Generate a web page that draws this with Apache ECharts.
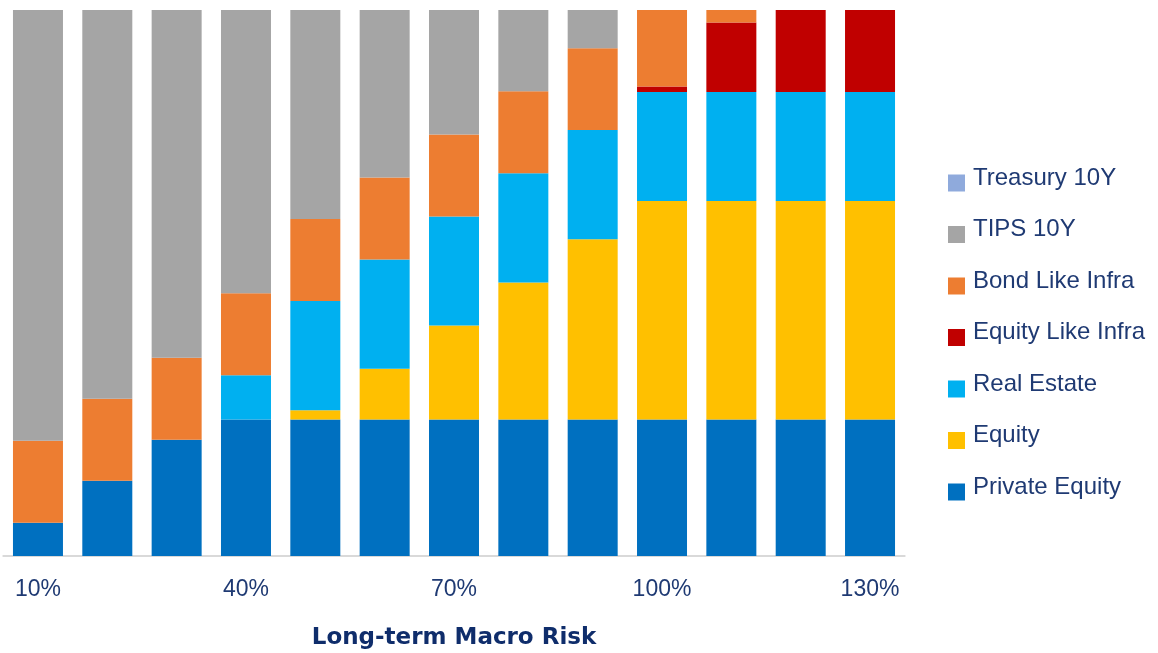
<!DOCTYPE html>
<html>
<head>
<meta charset="utf-8">
<script src="https://cdn.jsdelivr.net/npm/echarts@6/dist/echarts.min.js"></script>
<style>
  html, body { margin: 0; padding: 0; background: #fff; }
  #chart { width: 1158px; height: 653px; }
</style>
</head>
<body>
<div id="chart"></div>
<script>
// categories (macro risk levels)
const categories = ['10%', '20%', '30%', '40%', '50%', '60%', '70%', '80%', '90%', '100%', '110%', '120%', '130%']

// allocation shares, % of portfolio
const privateEquity = [6.1, 13.8, 21.3, 25, 25, 25, 25, 25, 25, 25, 25, 25, 25]
const equity = [0, 0, 0, 0, 1.7, 9.3, 17.2, 25.1, 33, 40, 40, 40, 40]
const realEstate = [0, 0, 0, 8.1, 20, 20, 20, 20, 20, 20, 20, 20, 20]
const equityLikeInfra = [0, 0, 0, 0, 0, 0, 0, 0, 0, 1, 12.7, 15, 15]
const bondLikeInfra = [15, 15, 15, 15, 15, 15, 15, 15, 15, 14, 2.3, 0, 0]
const tips10y = [78.9, 71.2, 63.7, 51.9, 38.3, 30.7, 22.8, 14.9, 7, 0, 0, 0, 0]
const treasury10y = [0, 0, 0, 0, 0, 0, 0, 0, 0, 0, 0, 0, 0]

const legendOrder = ['Treasury 10Y', 'TIPS 10Y', 'Bond Like Infra', 'Equity Like Infra', 'Real Estate', 'Equity', 'Private Equity']

const font = '"Liberation Sans", Arial, sans-serif'
const navy = '#1f3a73'

function bar (name, data, color) {
  return {
    name: name,
    type: 'bar',
    stack: 'total',
    barWidth: 50,
    itemStyle: { color: color },
    data: data
  }
}

const chart = echarts.init(document.getElementById('chart'))
chart.setOption({
  animation: false,
  grid: { left: 3.3, right: 253.3, top: 10, bottom: 97, outerBoundsMode: 'none' },
  legend: {
    orient: 'vertical',
    left: 943,
    top: 161,
    data: legendOrder,
    icon: 'rect',
    itemWidth: 17,
    itemHeight: 17,
    itemGap: 17.5,
    formatter: '{t|{name}}',
    textStyle: {
      fontFamily: font,
      fontSize: 24,
      color: navy,
      rich: {
        t: { fontFamily: font, fontSize: 24, color: navy, lineHeight: 24, padding: [0, 0, 10, 3] }
      }
    }
  },
  xAxis: {
    type: 'category',
    data: categories,
    name: 'Long-term Macro Risk',
    nameLocation: 'middle',
    nameGap: 71,
    nameTextStyle: { fontFamily: '"DejaVu Sans", sans-serif', fontWeight: 'bold', fontSize: 23, color: '#0f2d6b' },
    axisLine: { lineStyle: { color: '#d9d9d9', width: 2 } },
    axisTick: { show: false },
    axisLabel: { interval: 2, margin: 22, fontFamily: font, fontSize: 23, color: navy }
  },
  yAxis: {
    type: 'value',
    min: 0,
    max: 100,
    show: false
  },
  series: [
    bar('Private Equity', privateEquity, '#0070c0'),
    bar('Equity', equity, '#ffc000'),
    bar('Real Estate', realEstate, '#00b0f0'),
    bar('Equity Like Infra', equityLikeInfra, '#c00000'),
    bar('Bond Like Infra', bondLikeInfra, '#ed7d31'),
    bar('TIPS 10Y', tips10y, '#a5a5a5'),
    bar('Treasury 10Y', treasury10y, '#8faadc')
  ]
})
</script>
</body>
</html>
